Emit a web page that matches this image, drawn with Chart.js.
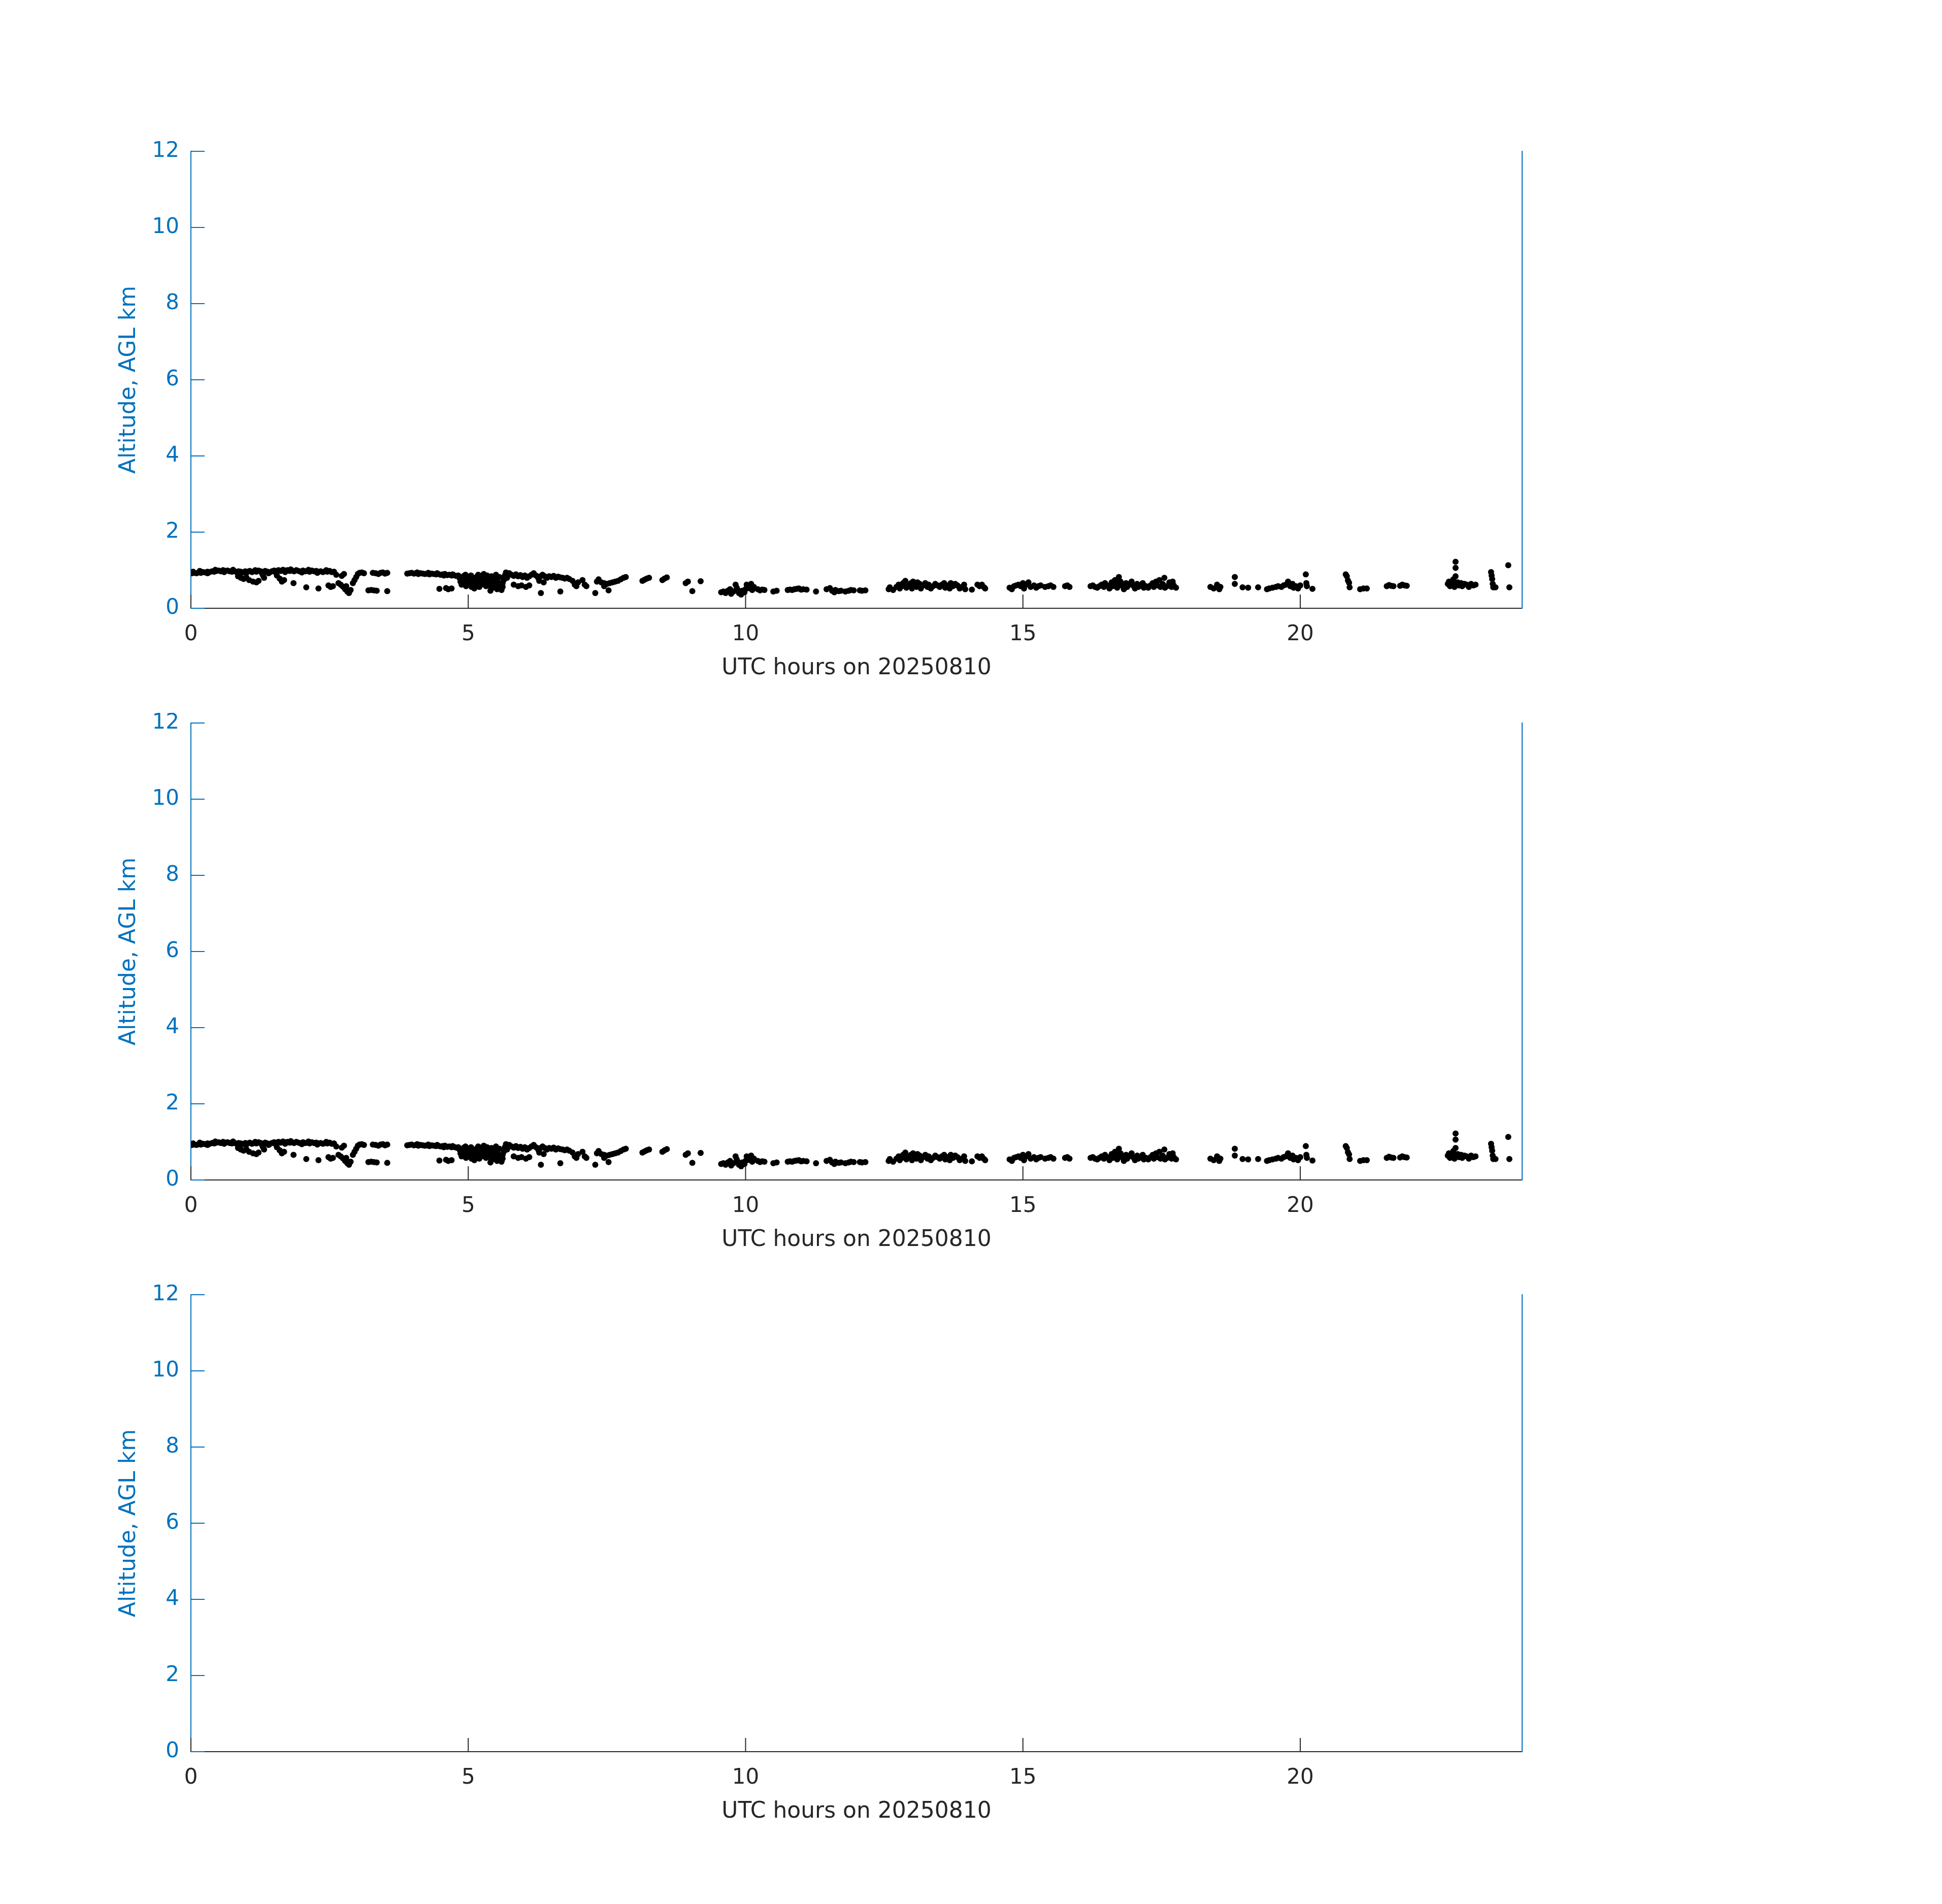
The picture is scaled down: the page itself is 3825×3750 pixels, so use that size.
<!DOCTYPE html>
<html>
<head>
<meta charset="utf-8">
<script src="https://cdn.jsdelivr.net/npm/chart.js@4/dist/chart.umd.min.js"></script>
<style>
  body { margin: 0; background: #fff; }
  #page { position: relative; width: 3825px; height: 3750px; background: #fff; }
  canvas { position: absolute; left: 0; }
</style>
</head>
<body>
<div id="page">
  <canvas id="panel1" width="3825" height="1125"></canvas>
  <canvas id="panel2" width="3825" height="1125"></canvas>
  <canvas id="panel3" width="3825" height="1125"></canvas>
</div>
<script>
// ticks
const xTicks = [0, 5, 10, 15, 20];
const yTicks = [0, 2, 4, 6, 8, 10, 12];
const xTitle = 'UTC hours on 20250810';
const yTitle = 'Altitude, AGL km';

// cloud hits: [UTC hour, altitude km]
const hits00to04 = [
  [0.02,0.92],[0.06,0.93],[0.10,0.92],[0.14,0.94],[0.18,0.93],[0.22,0.95],[0.26,0.94],[0.30,0.96],[0.34,0.95],[0.38,0.97],
  [0.42,0.96],[0.46,0.98],[0.50,0.99],[0.54,0.97],[0.58,1.00],[0.62,0.98],[0.66,0.99],[0.70,0.97],[0.74,0.96],[0.78,0.98],
  [0.82,0.95],[0.86,0.97],[0.90,0.96],[0.94,0.94],[0.98,0.97],[1.02,0.96],[1.06,0.98],[1.10,0.95],[1.14,0.97],[1.18,0.96],
  [1.22,0.99],[1.26,0.97],[1.30,0.95],[1.34,0.98],[1.38,0.96],[1.42,0.94],[1.46,0.97],[1.50,0.99],[1.54,0.98],[1.58,1.00],
  [1.62,0.98],[1.66,1.01],[1.70,0.99],[1.74,1.00],[1.78,0.98],[1.82,0.99],[1.86,0.97],[1.90,1.00],[1.94,0.98],[1.98,0.96],
  [2.02,0.99],[2.06,0.97],[2.10,0.98],[2.14,0.96],[2.18,0.99],[2.22,0.97],[2.26,0.98],[2.30,0.96],[2.34,0.97],[2.38,0.95],
  [2.42,0.97],[2.46,0.96],[2.50,0.98],[2.54,0.95],[2.58,0.96],
  [0.04,0.96],[0.16,0.98],[0.30,0.92],[0.44,1.01],[0.60,0.95],[0.76,1.01],[0.88,0.92],[1.00,0.93],[1.16,1.00],
  [1.28,0.92],[1.40,0.92],[1.52,0.95],[1.70,0.95],[1.80,1.02],[2.00,0.94],[2.12,1.01],[2.28,0.93],[2.44,1.00],
  [0.85,0.84],[0.90,0.80],[0.95,0.77],[1.00,0.81],[1.05,0.74],[1.12,0.70],[1.18,0.68],[1.22,0.72],[1.30,0.86],[1.32,0.80],
  [1.55,0.86],[1.60,0.78],[1.64,0.70],[1.68,0.74],[1.85,0.66],[2.08,0.55],[2.30,0.52],[2.48,0.60],[2.52,0.56],[2.56,0.58],
  [2.62,0.88],[2.66,0.66],[2.70,0.62],[2.74,0.57],[2.78,0.50],[2.82,0.44],[2.85,0.40],[2.88,0.48],[2.80,0.58],[2.72,0.85],[2.76,0.90],
  [2.92,0.66],[2.95,0.74],[2.98,0.82],[3.01,0.90],[3.04,0.93],
  [3.08,0.94],[3.12,0.92],[3.28,0.93],[3.33,0.92],[3.38,0.90],[3.42,0.93],[3.46,0.94],[3.50,0.91],[3.54,0.93],
  [3.20,0.47],[3.25,0.48],[3.30,0.47],[3.35,0.46],[3.54,0.45],
  [3.90,0.91],[3.94,0.92],[3.98,0.93]
];

const hits04to08 = [
  [4.02,0.91],[4.06,0.92],[4.10,0.90],[4.14,0.92],[4.18,0.91],[4.22,0.90],[4.26,0.91],[4.30,0.89],[4.34,0.91],[4.38,0.90],
  [4.42,0.89],[4.46,0.90],[4.50,0.88],[4.54,0.89],[4.58,0.90],[4.62,0.87],[4.66,0.88],[4.70,0.86],[4.74,0.87],[4.78,0.85],[4.82,0.86],
  [4.08,0.94],[4.28,0.93],[4.44,0.92],[4.56,0.86],[4.72,0.89],
  [4.48,0.51],[4.60,0.53],[4.64,0.50],[4.70,0.52],
  [4.84,0.80],[4.86,0.70],[4.88,0.62],[4.90,0.76],[4.92,0.85],[4.94,0.68],[4.96,0.58],[4.98,0.74],[5.00,0.82],[5.02,0.64],
  [5.04,0.72],[5.06,0.56],[5.08,0.80],[5.10,0.66],[5.12,0.60],[5.14,0.76],[5.16,0.84],[5.18,0.68],[5.20,0.56],[5.22,0.72],
  [5.24,0.62],[5.26,0.80],[5.28,0.90],[5.30,0.70],[5.32,0.58],[5.34,0.66],[5.36,0.78],[5.38,0.60],[5.40,0.72],[5.42,0.84],
  [5.44,0.54],[5.46,0.66],[5.48,0.78],[5.50,0.58],[5.52,0.50],[5.54,0.68],[5.56,0.82],[5.58,0.62],[5.60,0.48],[5.62,0.56],
  [5.64,0.74],[5.66,0.86],[5.68,0.94],[5.70,0.80],
  [4.95,0.88],[5.05,0.86],[5.18,0.88],[5.34,0.86],[5.50,0.88],[5.62,0.66],[5.11,0.52],[5.40,0.46],
  [5.74,0.92],[5.78,0.88],[5.82,0.85],[5.86,0.89],[5.90,0.84],[5.94,0.87],[5.98,0.82],[6.02,0.86],[6.06,0.80],[6.10,0.84],
  [6.14,0.88],[6.18,0.92],[6.22,0.86],[6.26,0.80],[6.30,0.84],[6.34,0.88],[6.38,0.84],[6.42,0.80],[6.46,0.84],[6.50,0.82],
  [6.54,0.85],[6.58,0.80],[6.62,0.83],[6.66,0.81],[6.70,0.80],[6.74,0.78],[6.78,0.80],[6.82,0.77],
  [5.82,0.62],[5.90,0.58],[5.96,0.60],[6.04,0.56],[6.10,0.60],[6.28,0.72],[6.36,0.68],[6.31,0.40],[6.66,0.44],
  [6.88,0.72],[6.92,0.62],[6.95,0.58],[6.98,0.68],[7.06,0.74],[7.10,0.62],[7.13,0.58],[7.29,0.40],
  [7.32,0.70],[7.35,0.76],[7.40,0.68],[7.45,0.66],[7.50,0.64],[7.55,0.66],[7.60,0.68],[7.65,0.70],[7.70,0.72],[7.75,0.76],
  [7.80,0.80],[7.84,0.82],[7.45,0.58],[7.53,0.47]
];

const hits08to12 = [
  [8.14,0.72],[8.18,0.75],[8.22,0.78],[8.26,0.80],[8.50,0.74],[8.54,0.78],[8.58,0.81],
  [8.92,0.66],[8.96,0.70],[9.04,0.45],[9.19,0.71],
  [9.56,0.42],[9.60,0.44],[9.64,0.40],[9.68,0.46],[9.72,0.50],[9.74,0.38],[9.78,0.44],[9.82,0.62],[9.84,0.54],[9.86,0.48],
  [9.88,0.40],[9.92,0.36],[9.94,0.46],[9.98,0.42],[10.00,0.50],
  [10.02,0.62],[10.06,0.58],[10.10,0.64],[10.08,0.52],[10.12,0.48],[10.15,0.56],
  [10.22,0.50],[10.26,0.47],[10.30,0.49],[10.34,0.48],[10.50,0.44],[10.56,0.46],
  [10.76,0.48],[10.80,0.49],[10.84,0.48],[10.88,0.50],[10.92,0.51],[10.96,0.52],[11.00,0.49],[11.04,0.50],[11.10,0.49],
  [11.27,0.44],
  [11.46,0.50],[11.52,0.53],[11.56,0.46],[11.60,0.42],[11.62,0.48],[11.68,0.45],[11.72,0.46],[11.80,0.44],[11.86,0.46],
  [11.90,0.48],[11.95,0.47]
];

const hits12to16 = [
  [12.06,0.47],[12.10,0.46],[12.16,0.47],
  [12.58,0.50],[12.60,0.55],[12.66,0.48],[12.72,0.56],[12.76,0.62],[12.78,0.52],[12.82,0.58],[12.84,0.66],[12.88,0.72],
  [12.90,0.54],[12.94,0.60],[12.98,0.66],[13.00,0.52],[13.02,0.70],[13.06,0.62],[13.08,0.56],[13.10,0.68],[13.14,0.64],
  [13.16,0.52],[13.20,0.60],[13.24,0.66],[13.28,0.56],[13.30,0.62],[13.34,0.52],[13.38,0.58],[13.42,0.64],[13.46,0.60],
  [13.50,0.56],[13.54,0.62],[13.58,0.66],[13.60,0.54],[13.64,0.60],[13.68,0.52],[13.70,0.66],[13.74,0.58],[13.78,0.64],
  [13.82,0.60],[13.86,0.52],[13.90,0.56],[13.94,0.62],[13.96,0.50],
  [14.08,0.49],[14.18,0.62],[14.22,0.58],[14.26,0.62],[14.30,0.55],[14.32,0.52],
  [14.76,0.54],[14.80,0.50],[14.84,0.58],[14.88,0.60],[14.92,0.62],[14.96,0.58],[15.00,0.66],[15.02,0.52],[15.06,0.62],
  [15.10,0.68],[15.14,0.56],[15.20,0.60],[15.24,0.54],[15.28,0.58],[15.32,0.60],[15.40,0.56],[15.46,0.58],[15.50,0.60],
  [15.55,0.56],[15.76,0.58],[15.80,0.60],[15.84,0.56]
];

const hits16to20 = [
  [16.22,0.58],[16.26,0.60],[16.30,0.56],[16.34,0.54],[16.38,0.58],[16.42,0.62],[16.46,0.56],[16.48,0.66],[16.52,0.60],
  [16.56,0.52],[16.60,0.68],[16.62,0.58],[16.66,0.74],[16.68,0.64],[16.70,0.54],[16.74,0.62],[16.76,0.70],[16.80,0.58],
  [16.82,0.50],[16.86,0.66],[16.88,0.56],[16.92,0.62],[16.96,0.70],[17.00,0.58],[17.02,0.52],[17.06,0.64],[17.08,0.56],
  [17.12,0.60],[17.16,0.66],[17.18,0.54],[17.22,0.58],[17.26,0.54],[17.30,0.60],[17.34,0.66],[17.36,0.56],[17.40,0.70],
  [17.42,0.60],[17.46,0.74],[17.48,0.56],[17.52,0.64],[17.56,0.54],[17.60,0.58],[17.64,0.68],[17.68,0.56],[17.72,0.60],
  [17.76,0.54],[16.73,0.82],[17.55,0.80],[17.70,0.70],
  [18.38,0.56],[18.44,0.52],[18.50,0.62],[18.54,0.50],[18.56,0.56],[18.82,0.82],[18.82,0.64],
  [18.96,0.55],[19.06,0.54],[19.24,0.55],
  [19.40,0.50],[19.44,0.52],[19.50,0.54],[19.56,0.56],[19.60,0.58],[19.66,0.56],[19.70,0.60],[19.74,0.62],[19.78,0.70],
  [19.82,0.58],[19.86,0.64],[19.88,0.54],[19.92,0.58],[19.96,0.52],[20.00,0.60]
];

const hits20to24 = [
  [20.10,0.89],[20.11,0.66],[20.12,0.58],[20.22,0.51],
  [20.82,0.89],[20.84,0.84],[20.86,0.73],[20.88,0.67],[20.89,0.55],
  [21.08,0.50],[21.14,0.52],[21.20,0.52],
  [21.56,0.58],[21.60,0.61],[21.64,0.59],[21.68,0.58],[21.80,0.59],[21.84,0.62],[21.88,0.60],[21.92,0.59],
  [22.66,0.64],[22.68,0.70],[22.70,0.58],[22.74,0.66],[22.76,0.76],[22.78,0.56],[22.80,0.62],[22.84,0.68],[22.86,0.60],
  [22.90,0.66],[22.92,0.58],[22.96,0.64],[23.00,0.62],[23.04,0.56],[23.08,0.64],[23.12,0.60],[23.16,0.62],
  [22.80,1.06],[22.80,1.22],[22.80,0.84],
  [23.44,0.95],[23.45,0.86],[23.46,0.77],[23.47,0.64],[23.48,0.55],[23.52,0.55],
  [23.75,1.13],[23.77,0.55]
];

const dayHits = [].concat(hits00to04, hits04to08, hits08to12, hits12to16, hits16to20, hits20to24)
  .map(p => ({ x: p[0], y: p[1] }));

const blue = '#0072BD';
const gray = '#262626';
const fontFamily = "'DejaVu Sans', sans-serif";
const padTop = 20;
const tickLen = 27;

// matlab style ticks point into the axes
const inwardTicks = {
  id: 'inwardTicks',
  afterDraw(chart) {
    const { ctx, chartArea } = chart;
    const xs = chart.scales.x, ys = chart.scales.y;
    ctx.save();
    ctx.lineWidth = 2;
    ctx.strokeStyle = gray;
    xs.ticks.forEach((t, i) => {
      const px = xs.getPixelForTick(i);
      ctx.beginPath();
      ctx.moveTo(px, chartArea.bottom);
      ctx.lineTo(px, chartArea.bottom - tickLen);
      ctx.stroke();
    });
    ctx.strokeStyle = blue;
    ys.ticks.forEach((t, i) => {
      const py = ys.getPixelForTick(i);
      ctx.beginPath();
      ctx.moveTo(chartArea.left, py);
      ctx.lineTo(chartArea.left + tickLen, py);
      ctx.stroke();
    });
    ctx.restore();
  }
};

// keep chart.js from shrinking the plot area for label overhang
function noOverhang(s) {
  s.paddingTop = 0;
  s.paddingBottom = 0;
  s.paddingLeft = 0;
  s.paddingRight = 0;
}

function makePanel(id, top, points) {
  const canvas = document.getElementById(id);
  canvas.style.top = (top - padTop) + 'px';
  new Chart(canvas, {
    type: 'scatter',
    data: {
      datasets: [{
        data: points,
        pointRadius: 6,
        pointHoverRadius: 6,
        backgroundColor: '#000',
        borderWidth: 0
      }]
    },
    options: {
      responsive: false,
      animation: false,
      devicePixelRatio: 1,
      layout: { padding: { top: padTop, left: 0, right: 0, bottom: 0 } },
      plugins: { legend: { display: false }, tooltip: { enabled: false } },
      scales: {
        x: {
          type: 'linear',
          position: 'bottom',
          min: 0,
          max: 24,
          afterBuildTicks: s => { s.ticks = xTicks.map(v => ({ value: v })); },
          grid: { display: false, drawTicks: false },
          border: { display: true, color: gray, width: 2 },
          ticks: { color: gray, font: { family: fontFamily, size: 42 }, padding: 27, maxRotation: 0 },
          title: {
            display: true, text: xTitle, color: gray,
            font: { family: fontFamily, size: 44 },
            padding: { top: 0, bottom: 60 }
          },
          afterFit: s => { s.height = 205; noOverhang(s); }
        },
        y: {
          type: 'linear',
          position: 'left',
          min: 0,
          max: 12,
          afterBuildTicks: s => { s.ticks = yTicks.map(v => ({ value: v })); },
          grid: { display: false, drawTicks: false },
          border: { display: true, color: blue, width: 2 },
          ticks: { color: blue, font: { family: fontFamily, size: 42 }, padding: 23 },
          title: {
            display: true, text: yTitle, color: blue,
            font: { family: fontFamily, size: 44 },
            padding: { top: 228, bottom: 0 }
          },
          afterFit: s => { s.width = 376; noOverhang(s); }
        },
        yRight: {
          type: 'linear',
          position: 'right',
          min: 0,
          max: 12,
          grid: { display: false, drawTicks: false },
          border: { display: true, color: blue, width: 2 },
          ticks: { display: false },
          afterFit: s => { s.width = 827; noOverhang(s); }
        }
      }
    },
    plugins: [inwardTicks]
  });
}

makePanel('panel1', 298, dayHits);
makePanel('panel2', 1424, dayHits);
makePanel('panel3', 2550, []);
</script>
</body>
</html>
